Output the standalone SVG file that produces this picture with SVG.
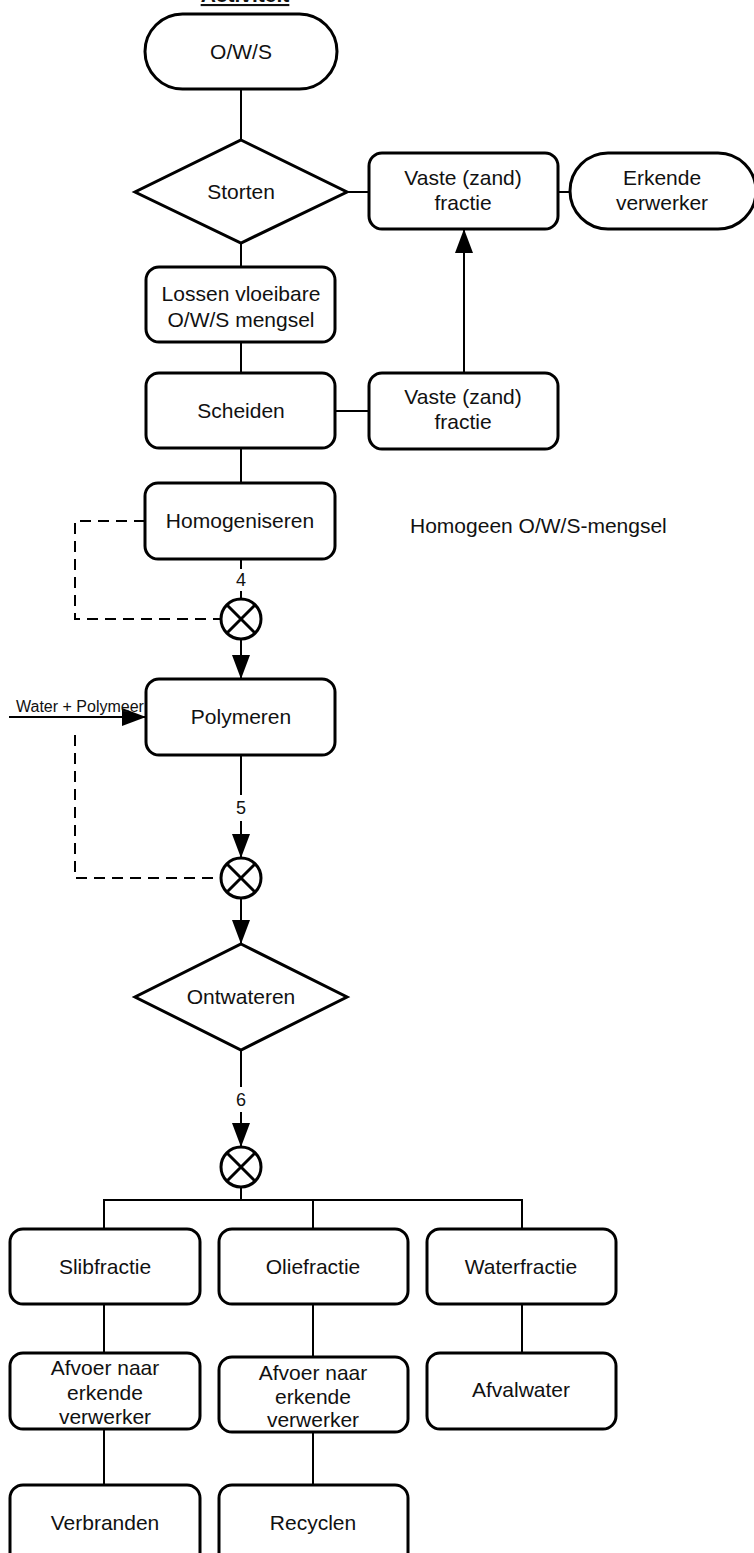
<svg xmlns="http://www.w3.org/2000/svg" width="754" height="1553" viewBox="0 0 754 1553">
<style>
.n{fill:#fff;stroke:#000;stroke-width:3}
.t{font-family:"Liberation Sans",Arial,sans-serif;font-size:21px;fill:#111;text-anchor:middle}
.s{font-family:"Liberation Sans",Arial,sans-serif;fill:#111}
.c{fill:none;stroke:#000;stroke-width:2}
.d{fill:none;stroke:#000;stroke-width:2;stroke-dasharray:11,7}
</style>
<defs>
<marker id="ah" markerUnits="userSpaceOnUse" markerWidth="24" markerHeight="18" refX="24" refY="9" orient="auto">
<path d="M0,0 L24,9 L0,18 z" fill="#000"/>
</marker>
</defs>
<rect width="754" height="1553" fill="#fff"/>
<text class="s" x="245" y="2" font-size="21" font-weight="bold" text-anchor="middle" text-decoration="underline">Activiteit</text>
<g id="connectors">
<path class="c" d="M241,89 V140"/>
<path class="c" d="M347,192 H369"/>
<path class="c" d="M557,192 H570"/>
<path class="c" d="M241,243 V267"/>
<path class="c" d="M241,342 V373"/>
<path class="c" d="M335,411 H369"/>
<path class="c" d="M464,373 V229" marker-end="url(#ah)"/>
<path class="c" d="M241,448 V483"/>
<path class="d" d="M145,521 H75 V619 H221"/>
<path class="c" d="M241,559 V569"/>
<path class="c" d="M241,591 V599"/>
<path class="c" d="M241,639 V679" marker-end="url(#ah)"/>
<path class="c" d="M9,717 H146" marker-end="url(#ah)"/>
<path class="d" d="M75,735 V878 H221"/>
<path class="c" d="M241,755 V795"/>
<path class="c" d="M241,821 V858" marker-end="url(#ah)"/>
<path class="c" d="M241,898 V944" marker-end="url(#ah)"/>
<path class="c" d="M241,1050 V1087"/>
<path class="c" d="M241,1112 V1147" marker-end="url(#ah)"/>
<path class="c" d="M241,1187 V1200 M104,1229 V1200 H522 V1229 M313,1200 V1229"/>
<path class="c" d="M104,1304 V1353"/>
<path class="c" d="M313,1304 V1357"/>
<path class="c" d="M522,1304 V1353"/>
<path class="c" d="M104,1429 V1485"/>
<path class="c" d="M313,1432 V1485"/>
</g>
<g id="ows"><rect class="n" x="145" y="14" width="192" height="75" rx="37.5"/><text class="t" x="241" y="59">O/W/S</text></g>
<g id="storten"><path class="n" d="M241,140 L347,192 L241,243 L135,192 Z"/><text class="t" x="241" y="199">Storten</text></g>
<g id="vaste1"><rect class="n" x="369" y="153" width="189" height="76" rx="13"/><text class="t" x="463" y="185">Vaste (zand)</text><text class="t" x="463" y="210">fractie</text></g>
<g id="erkende"><rect class="n" x="570" y="153" width="186" height="76" rx="38"/><text class="t" x="662" y="185">Erkende</text><text class="t" x="662" y="210">verwerker</text></g>
<g id="lossen"><rect class="n" x="146" y="267" width="189" height="75" rx="13"/><text class="t" x="241" y="301">Lossen vloeibare</text><text class="t" x="241" y="327">O/W/S mengsel</text></g>
<g id="scheiden"><rect class="n" x="146" y="373" width="189" height="75" rx="13"/><text class="t" x="241" y="418">Scheiden</text></g>
<g id="vaste2"><rect class="n" x="369" y="373" width="189" height="76" rx="13"/><text class="t" x="463" y="404">Vaste (zand)</text><text class="t" x="463" y="429">fractie</text></g>
<g id="homogeniseren"><rect class="n" x="145" y="483" width="190" height="76" rx="13"/><text class="t" x="240" y="528">Homogeniseren</text></g>
<g id="homogeen"><text class="s" x="410" y="533" font-size="21">Homogeen O/W/S-mengsel</text></g>
<text class="s" x="241" y="586" font-size="18" text-anchor="middle">4</text>
<g id="mix1"><circle class="n" cx="241" cy="619" r="20"/><path d="M227,605 L255,633 M255,605 L227,633" stroke="#000" stroke-width="3"/></g>
<g id="polymeren"><rect class="n" x="146" y="679" width="189" height="76" rx="13"/><text class="t" x="241" y="724">Polymeren</text></g>
<text class="s" x="16" y="712" font-size="16">Water + Polymeer</text>
<text class="s" x="241" y="814" font-size="18" text-anchor="middle">5</text>
<g id="mix2"><circle class="n" cx="241" cy="878" r="20"/><path d="M227,864 L255,892 M255,864 L227,892" stroke="#000" stroke-width="3"/></g>
<g id="ontwateren"><path class="n" d="M241,944 L347,997 L241,1050 L135,997 Z"/><text class="t" x="241" y="1004">Ontwateren</text></g>
<text class="s" x="241" y="1106" font-size="18" text-anchor="middle">6</text>
<g id="mix3"><circle class="n" cx="241" cy="1167" r="20"/><path d="M227,1153 L255,1181 M255,1153 L227,1181" stroke="#000" stroke-width="3"/></g>
<g id="slib"><rect class="n" x="10" y="1229" width="190" height="75" rx="13"/><text class="t" x="105" y="1274">Slibfractie</text></g>
<g id="olie"><rect class="n" x="219" y="1229" width="189" height="75" rx="13"/><text class="t" x="313" y="1274">Oliefractie</text></g>
<g id="water"><rect class="n" x="427" y="1229" width="189" height="75" rx="13"/><text class="t" x="521" y="1274">Waterfractie</text></g>
<g id="afvoer1"><rect class="n" x="10" y="1353" width="190" height="76" rx="13"/><text class="t" x="105" y="1375">Afvoer naar</text><text class="t" x="105" y="1400">erkende</text><text class="t" x="105" y="1424">verwerker</text></g>
<g id="afvoer2"><rect class="n" x="219" y="1357" width="189" height="75" rx="13"/><text class="t" x="313" y="1380">Afvoer naar</text><text class="t" x="313" y="1404">erkende</text><text class="t" x="313" y="1427">verwerker</text></g>
<g id="afvalwater"><rect class="n" x="427" y="1353" width="189" height="76" rx="13"/><text class="t" x="521" y="1397">Afvalwater</text></g>
<g id="verbranden"><rect class="n" x="10" y="1485" width="190" height="90" rx="13"/><text class="t" x="105" y="1530">Verbranden</text></g>
<g id="recyclen"><rect class="n" x="219" y="1485" width="189" height="90" rx="13"/><text class="t" x="313" y="1530">Recyclen</text></g>
</svg>
